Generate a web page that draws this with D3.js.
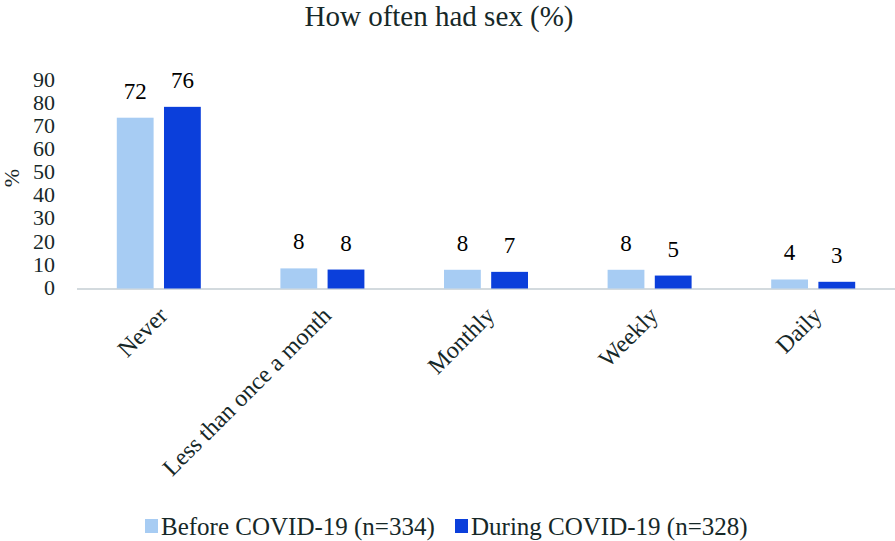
<!DOCTYPE html>
<html><head><meta charset="utf-8">
<script src="https://cdn.jsdelivr.net/npm/d3@7"></script>
<style>html,body{margin:0;padding:0;background:#fff;}svg{display:block;} text{font-family:'Liberation Serif','Times New Roman',serif;}</style>
</head><body>
<svg id="chart" width="895" height="541"></svg>
<script>
const categories = ["Never", "Less than once a month", "Monthly", "Weekly", "Daily"];
const seriesNames = ["Before COVID-19 (n=334)", "During COVID-19 (n=328)"];
const beforeValues = [73.9, 8.7, 8.1, 8.1, 3.9];
const duringValues = [78.6, 8.2, 7.2, 5.6, 2.9];
const beforeLabels = ["72", "8", "8", "8", "4"];
const duringLabels = ["76", "8", "7", "5", "3"];
const yTicks = [0, 10, 20, 30, 40, 50, 60, 70, 80, 90];
const titleText = "How often had sex (%)";
const yAxisTitle = "%";
const colors = ["#a7ccf3", "#0b3fdb"];

const serif = "'Liberation Serif','Times New Roman',serif";
const textCol = "#162828";
const svg = d3.select("#chart");

const x0 = d3.scaleBand().domain(categories).range([77, 895]).paddingInner(0).paddingOuter(0);
const x1 = d3.scaleBand().domain([0, 1]).range([-42, 42]).paddingInner(0.22).paddingOuter(0);
const y = d3.scaleLinear().domain([0, 90]).range([288.5, 80.5]);

// baseline
svg.append("line").attr("x1", 77).attr("x2", 895).attr("y1", y(0) + 0.5).attr("y2", y(0) + 0.5)
  .attr("stroke", "#d3dade").attr("stroke-width", 2);

// y axis ticks (text only)
const yAxis = d3.axisLeft(y).tickValues(yTicks).tickSize(0).tickPadding(0);
const gy = svg.append("g").attr("transform", "translate(55,0)").call(yAxis);
gy.select(".domain").remove();
gy.selectAll("text").style("font-family", serif).attr("font-size", 22).attr("fill", textCol)
  .attr("dy", "0.26em");
gy.attr("font-family", null).attr("font-size", null);

// y axis title
svg.append("text").attr("transform", "translate(19,178) rotate(-90)")
  .attr("text-anchor", "middle").style("font-family", serif).attr("font-size", 22)
  .attr("fill", textCol).text(yAxisTitle);

const series = [beforeValues, duringValues];
const labels = [beforeLabels, duringLabels];
series.forEach((vals, si) => {
  const g = svg.append("g");
  g.selectAll("rect").data(vals).join("rect")
    .attr("x", (d, i) => x0(categories[i]) + x0.bandwidth() / 2 + x1(si))
    .attr("width", x1.bandwidth())
    .attr("y", d => y(d))
    .attr("height", d => y(0) - y(d))
    .attr("fill", colors[si]);
  g.selectAll("text").data(vals).join("text")
    .attr("x", (d, i) => x0(categories[i]) + x0.bandwidth() / 2 + x1(si) + x1.bandwidth() / 2)
    .attr("y", d => y(d) - 19)
    .attr("text-anchor", "middle").style("font-family", serif).attr("font-size", 23)
    .attr("fill", "#000").text((d, i) => labels[si][i]);
});

// x labels
svg.append("g").selectAll("text").data(categories).join("text")
  .attr("transform", d => `translate(${x0(d) + x0.bandwidth() / 2 + 10},317) rotate(-45)`)
  .attr("text-anchor", "end").style("font-family", serif).attr("font-size", 24)
  .attr("fill", textCol).text(d => d);

// title
svg.append("text").attr("x", 439).attr("y", 26).attr("text-anchor", "middle")
  .style("font-family", serif).attr("font-size", 29).attr("fill", textCol).text(titleText);

// legend
const legendX = [145, 455];
seriesNames.forEach((name, i) => {
  svg.append("rect").attr("x", legendX[i]).attr("y", 519).attr("width", 13).attr("height", 14)
    .attr("fill", colors[i]);
  svg.append("text").attr("x", legendX[i] + 16).attr("y", 535)
    .style("font-family", serif).attr("font-size", 25).attr("fill", textCol).text(name);
});
</script>
</body></html>
